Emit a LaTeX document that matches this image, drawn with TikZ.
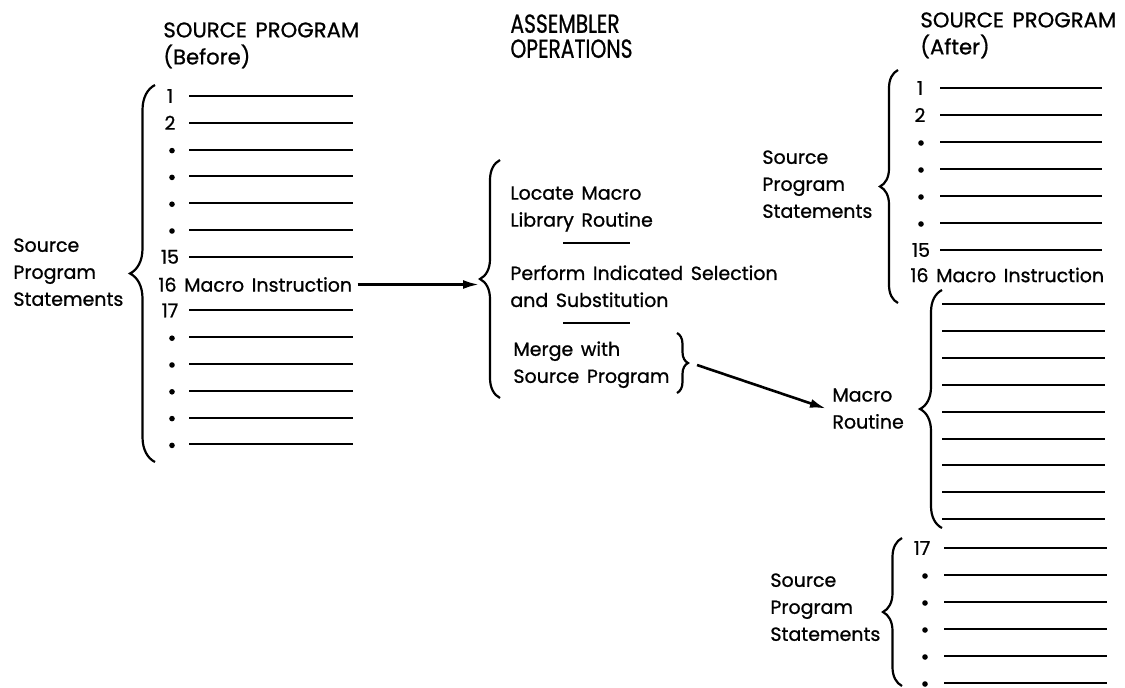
\documentclass[tikz,border=0pt]{standalone}
\usepackage{fontspec}
\setmainfont{Poppins}[FakeBold=0.9, WordSpace=1.5]
\usetikzlibrary{decorations.pathreplacing,arrows.meta}
\begin{document}
\begin{tikzpicture}[x=0.5pt,y=-0.5pt,
  txt/.style={inner sep=0pt, font=\fontsize{9.5}{13.5}\selectfont},
  multi/.style={txt, align=left, anchor=north west},
  hdr/.style={inner sep=0pt, align=left, anchor=north west, font=\fontsize{10.6}{13.5}\selectfont},
  rule/.style={line width=1pt},
  curly/.style={decorate, decoration={brace, amplitude=#1}, line width=1.1pt},
  arr/.style={line width=1.3pt, -{Latex[length=8pt,width=4.5pt]}},
  dot/.style={circle, fill, inner sep=0pt, minimum size=2.8pt},
]
\useasboundingbox (0,0) rectangle (1125,687);

% ---------- headers ----------
\node[hdr] (hbefore) at (163,22) {SOURCE PROGRAM\\(Before)};
\node[hdr, font=\fontsize{13}{12.5}\selectfont] (hasm) at (510,14)
  {\scalebox{0.78}[1]{ASSEMBLER}\\\scalebox{0.78}[1]{OPERATIONS}};
\node[hdr] (hafter) at (920,12) {SOURCE PROGRAM\\(After)};

% ---------- left column: source program before ----------
\foreach \i in {0,1,2,3,4,5,6,8,9,10,11,12,13}
  \draw[rule] (189,{96+26.8*\i}) -- (353,{96+26.8*\i});
\node[txt] (b1) at (170,96) {1};
\node[txt] (b2) at (170,122.8) {2};
\foreach \i in {2,3,4,5} \node[dot] (bd\i) at (172,{97+26.8*\i}) {};
\node[txt] (b15) at (170,256.8) {15};
\node[txt, anchor=west] (bmi) at (158,284.5) {16 Macro Instruction};
\node[txt] (b17) at (170,310.4) {17};
\foreach \i in {9,10,11,12,13} \node[dot] (bd\i) at (172,{97+26.8*\i}) {};
\draw[curly=12.5pt] (155,462) -- (155,85);
\node[multi] (blab) at (13,238) {Source\\Program\\Statements};

% ---------- middle: assembler operations ----------
\draw[curly=10pt] (500,398) -- (500,160);
\coordinate (asmtip) at (479,285);
\node[multi] (op1) at (510,186) {Locate Macro\\Library Routine};
\draw[rule] (563,243) -- (630,243);
\node[multi] (op2) at (510,265) {Perform Indicated Selection\\and Substitution};
\draw[rule] (563,323) -- (630,323);
\node[multi] (op3) at (513,341) {Merge with\\Source Program};
\draw[curly=5.5pt] (677,333) -- (677,393);
\coordinate (mergefrom) at (697,365);

% ---------- right column: source program after ----------
\foreach \i in {0,...,6}
  \draw[rule] (940,{88+27*\i}) -- (1102,{88+27*\i});
\node[txt] (a1) at (920,88) {1};
\node[txt] (a2) at (920,115) {2};
\foreach \i in {2,3,4,5} \node[dot] (ad\i) at (921,{89+27*\i}) {};
\node[txt] (a15) at (921,250) {15};
\node[txt, anchor=west] (ami) at (910,275) {16 Macro Instruction};
\draw[curly=9pt] (898,303) -- (898,70);
\node[multi] (alab) at (762,150) {Source\\Program\\Statements};

% macro routine
\foreach \j in {0,...,8}
  \draw[rule] (942,{304+26.9*\j}) -- (1105,{304+26.9*\j});
\draw[curly=11pt] (942,528) -- (942,290);
\node[multi] (mr) at (832,388) {Macro\\Routine};

% remaining statements
\foreach \k in {0,...,5}
  \draw[rule] (944,{548+27*\k}) -- (1107,{548+27*\k});
\node[txt] (a17) at (922,548) {17};
\foreach \k in {1,...,5} \node[dot] (ae\k) at (925,{549+27*\k}) {};
\draw[curly=9.5pt] (902,686) -- (902,538);
\node[multi] (clab) at (770,573) {Source\\Program\\Statements};

% ---------- connectors ----------
\draw[arr] ([xshift=2.5pt]bmi.east) -- (bmi.east -| asmtip);
\draw[arr] (mergefrom) -- ([xshift=-3pt]mr.west);
\end{tikzpicture}
\end{document}
